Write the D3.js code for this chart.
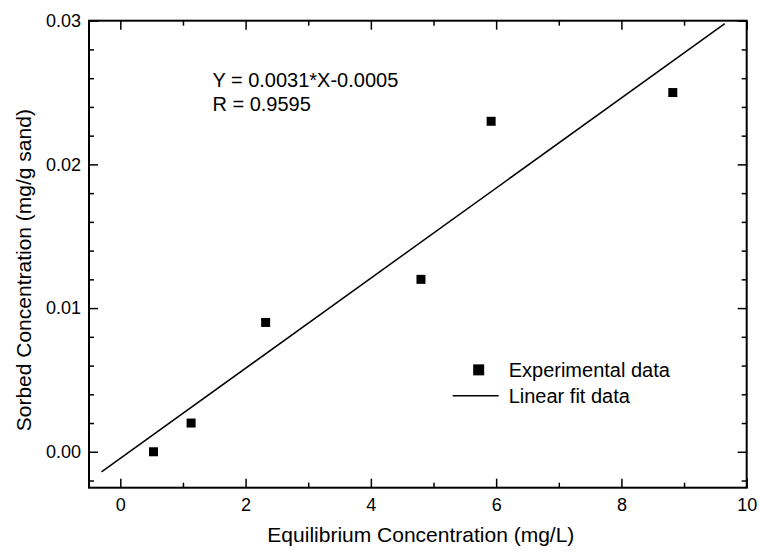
<!DOCTYPE html>
<html lang="en">
<head>
<meta charset="UTF-8">
<script src="https://d3js.org/d3.v7.min.js"></script>
<title>Sorption isotherm</title>
<style>
  body { margin: 0; background: #fff; }
  text { font-family: "Liberation Sans", Arial, sans-serif; fill: #000; }
</style>
</head>
<body>
<div id="chart"></div>
<script>
// experimental points
var eqConc = [0.53, 1.13, 2.32, 4.80, 5.92, 8.82];
var sorbed = [0.0000, 0.0020, 0.0090, 0.0120, 0.0230, 0.0250];

// linear fit end points
var fitX = [-0.3, 9.65];
var fitY = [-0.0014, 0.0298];

// ticks
var xMajor = [0, 2, 4, 6, 8, 10];
var xMinor = [1, 3, 5, 7, 9];
var yMajor = [0, 0.01, 0.02, 0.03];
var yMinor = [-0.002, 0.002, 0.004, 0.006, 0.008, 0.012, 0.014, 0.016, 0.018,
              0.022, 0.024, 0.026, 0.028];

var fitText = ["Y = 0.0031*X-0.0005", "R = 0.9595"];
var legendLabels = ["Experimental data", "Linear fit data"];

var W = 760, H = 554;
var margin = {top: 20.7, right: 13.3, bottom: 66.3, left: 89};
var width = W - margin.left - margin.right,
    height = H - margin.top - margin.bottom;

var svg = d3.select("#chart").append("svg")
    .attr("width", W).attr("height", H);
var g = svg.append("g")
    .attr("transform", "translate(" + margin.left + "," + margin.top + ")");

var x = d3.scaleLinear().domain([-0.5, 10]).range([0, width]);
var y = d3.scaleLinear().domain([-0.0025, 0.03]).range([height, 0]);

function styleAxis(sel) {
  sel.select(".domain").remove();
  sel.selectAll("line").attr("stroke", "#000").attr("stroke-width", 1.5);
  sel.selectAll("text").style("font-size", "18px");
}

// bottom
g.append("g").attr("transform", "translate(0," + height + ")")
  .call(d3.axisBottom(x).tickValues(xMajor).tickSize(-9).tickPadding(10.5).tickFormat(d3.format("d")))
  .call(styleAxis);
g.append("g").attr("transform", "translate(0," + height + ")")
  .call(d3.axisBottom(x).tickValues(xMinor).tickSize(-5).tickFormat(""))
  .call(styleAxis);
// top
g.append("g")
  .call(d3.axisTop(x).tickValues(xMajor).tickSize(-9).tickFormat(""))
  .call(styleAxis);
g.append("g")
  .call(d3.axisTop(x).tickValues(xMinor).tickSize(-5).tickFormat(""))
  .call(styleAxis);
// left
g.append("g")
  .call(d3.axisLeft(y).tickValues(yMajor).tickSize(-9).tickPadding(8).tickFormat(d3.format(".2f")))
  .call(styleAxis);
g.append("g")
  .call(d3.axisLeft(y).tickValues(yMinor).tickSize(-5).tickFormat(""))
  .call(styleAxis);
// right
g.append("g").attr("transform", "translate(" + width + ",0)")
  .call(d3.axisRight(y).tickValues(yMajor).tickSize(-9).tickFormat(""))
  .call(styleAxis);
g.append("g").attr("transform", "translate(" + width + ",0)")
  .call(d3.axisRight(y).tickValues(yMinor).tickSize(-5).tickFormat(""))
  .call(styleAxis);

// frame
g.append("rect")
  .attr("width", width).attr("height", height)
  .attr("fill", "none").attr("stroke", "#000").attr("stroke-width", 2);

// fit line
var fitPts = fitX.map(function(v, i) { return [v, fitY[i]]; });
g.append("path")
  .datum(fitPts)
  .attr("fill", "none").attr("stroke", "#000").attr("stroke-width", 1.5)
  .attr("d", d3.line().x(function(d){ return x(d[0]); }).y(function(d){ return y(d[1]); }));

// markers
var ms = 9;
g.selectAll(".pt")
  .data(eqConc.map(function(v, i){ return [v, sorbed[i]]; }))
  .enter().append("rect")
  .attr("class", "pt")
  .attr("x", function(d){ return x(d[0]) - ms / 2; })
  .attr("y", function(d){ return y(d[1]) - ms / 2; })
  .attr("width", ms).attr("height", ms)
  .attr("fill", "#000");

// fit equation
g.selectAll(".eq")
  .data(fitText)
  .enter().append("text")
  .attr("x", x(1.47))
  .attr("y", function(d, i){ return y(0.0254) + i * 24; })
  .style("font-size", "20px")
  .text(function(d){ return d; });

// legend
var lg = g.append("g").attr("transform", "translate(" + x(6.2) + "," + y(0.0057) + ")");
lg.append("rect").attr("x", -5.5 - 30).attr("y", -5.5).attr("width", 11).attr("height", 11).attr("fill", "#000");
lg.append("line").attr("x1", -56).attr("x2", -10).attr("y1", 26).attr("y2", 26)
  .attr("stroke", "#000").attr("stroke-width", 1.5);
lg.selectAll("text")
  .data(legendLabels)
  .enter().append("text")
  .attr("x", 0)
  .attr("y", function(d, i){ return 7 + i * 26; })
  .style("font-size", "20px")
  .text(function(d){ return d; });

// axis titles
svg.append("text")
  .attr("x", margin.left + width / 2 + 3)
  .attr("y", 542)
  .attr("text-anchor", "middle")
  .style("font-size", "21px")
  .text("Equilibrium Concentration (mg/L)");

svg.append("text")
  .attr("transform", "translate(31," + (margin.top + height / 2 + 16) + ") rotate(-90)")
  .attr("text-anchor", "middle")
  .style("font-size", "21px")
  .text("Sorbed Concentration (mg/g sand)");
</script>
</body>
</html>
